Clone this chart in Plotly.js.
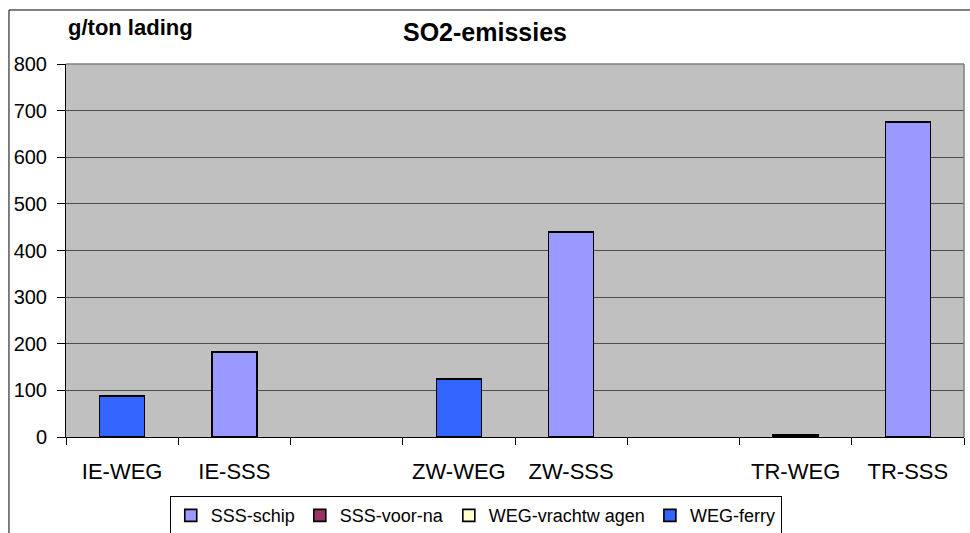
<!DOCTYPE html>
<html><head><meta charset="utf-8">
<script src="https://cdn.plot.ly/plotly-3.0.1.min.js"></script>
<style>html,body{margin:0;padding:0;background:#fff}#c{width:970px;height:533px}</style>
</head><body><div id="c"></div>
<script>
const categories = ['IE-WEG','IE-SSS',' ','ZW-WEG','ZW-SSS','  ','TR-WEG','TR-SSS'];
const sssSchip   = [0, 182, null, 0, 440, null, 0, 676];
const sssVoorNa  = [0, 0, null, 0, 0, null, 0, 0];
const wegVracht  = [0, 0, null, 0, 0, null, 0, 0];
const wegFerry   = [88, 0, null, 124, 0, null, 4, 0];
const seriesNames = ['SSS-schip','SSS-voor-na','WEG-vrachtw agen','WEG-ferry'];
const seriesColors = ['#9999FF','#993366','#FFFFCC','#3366FF'];
const seriesData = [sssSchip, sssVoorNa, wegVracht, wegFerry];

const traces = seriesData.map((d,i)=>({
  type:'bar', name:seriesNames[i], x:categories, y:d,
  marker:{color:seriesColors[i], line:{color:'#000', width:1.6}},
  hoverinfo:'skip'
}));

const layout = {
  width:970, height:533,
  margin:{l:66, r:6, t:64, b:96},
  barmode:'stack', bargap:0.6,
  paper_bgcolor:'#fff', plot_bgcolor:'#C0C0C0',
  font:{family:'Liberation Sans, Arial, sans-serif', color:'#000', size:19},
  title:{text:'<b>SO2-emissies</b>', font:{size:25}, x:0.5, xanchor:'center', y:0.94, yanchor:'middle'},
  xaxis:{type:'category', categoryorder:'array', categoryarray:categories,
    tickson:'boundaries', ticks:'outside', ticklen:7, tickcolor:'#000',
    showline:true, linecolor:'#000', linewidth:1, showgrid:false,
    tickfont:{size:22}, ticklabelstandoff:15, range:[-0.5,7.5], fixedrange:true},
  yaxis:{range:[0,800], dtick:100, ticks:'outside', ticklen:8, tickcolor:'#000',
    showline:true, linecolor:'#000', linewidth:1, ticklabelstandoff:6,
    gridcolor:'#4d4d4d', gridwidth:1.2, tickfont:{size:20}, zeroline:false, fixedrange:true},
  showlegend:true,
  legend:{orientation:'h', xref:'container', yref:'container', x:0.175, y:0.069,
    xanchor:'left', yanchor:'top', bordercolor:'#000', borderwidth:1, bgcolor:'#fff',
    font:{size:18}, traceorder:'normal', itemwidth:30, tracegroupgap:0},
  annotations:[{text:'<b>g/ton lading</b>', xref:'paper', yref:'paper', x:0.072, y:1.099,
    xanchor:'center', yanchor:'middle', showarrow:false, font:{size:22}}],
  shapes:[
    {type:'rect', xref:'paper', yref:'paper', x0:-0.0635, x1:1.2, y0:-0.5, y1:1.1448,
     line:{color:'#000', width:1}, fillcolor:'rgba(0,0,0,0)', layer:'below'},
    {type:'line', xref:'paper', yref:'paper', x0:0, x1:1, y0:1, y1:1, line:{color:'#808080', width:1.5}},
    {type:'line', xref:'paper', yref:'paper', x0:1, x1:1, y0:0, y1:1, line:{color:'#808080', width:1.5}}
  ]
};
Plotly.newPlot('c', traces, layout, {displayModeBar:false, staticPlot:true});
</script></body></html>
